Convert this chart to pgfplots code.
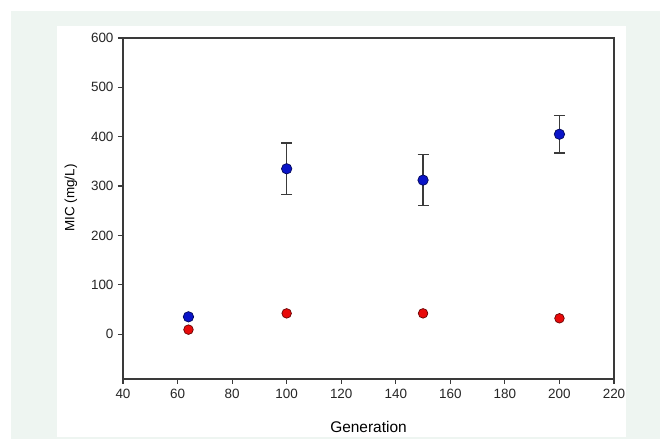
\documentclass[border=0pt]{standalone}
\usepackage{pgfplots}
\pgfplotsset{compat=1.18}
\usepackage{fontspec}
\setmainfont{Liberation Sans}
\definecolor{bgpanel}{HTML}{EEF5F1}
\definecolor{axgray}{HTML}{3A3A3A}
\definecolor{ptblue}{HTML}{0A14C8}
\definecolor{ptred}{HTML}{E80A0A}

\begin{document}
\begin{tikzpicture}[x=1bp,y=1bp]
% page background (reference framing)
\fill[white] (-123,-60) rectangle (537,379);
\fill[bgpanel] (-112,-60) rectangle (537,368);
\fill[white] (-66,-58) rectangle (503,353);
\begin{axis}[
    scale only axis, width=491bp, height=341bp,
    xmin=40, xmax=220, ymin=-91, ymax=600,
    xtick={40,60,...,220}, ytick={0,100,...,600},
    axis line style={axgray, line width=1.3bp},
    tick style={axgray, line width=1.1bp},
    tick align=outside, major tick length=5bp,
    xtick pos=bottom, ytick pos=left,
    /pgf/number format/assume math mode=true,
    /pgf/number format/1000 sep={},
    ticklabel style={font=\fontsize{13.5}{15}\selectfont, text=black!85},
    xticklabel style={yshift=-1.5bp},
    yticklabel style={xshift=-1bp},
    xlabel={Generation}, ylabel={MIC (mg/L)},
    xlabel style={font=\fontsize{15.5}{18}\selectfont, at={(axis description cs:0.5,0)}, anchor=base, yshift=-54bp},
    ylabel style={font=\fontsize{13.5}{15}\selectfont, at={(axis description cs:-0.106,0.531)}, anchor=center},
    clip=false,
]
\addplot[only marks, mark=*, mark size=4.8bp,
    mark options={fill=ptred, draw=ptred!45!black, line width=0.7bp}]
    coordinates {(64,9) (100,42) (150,42) (200,32)};
\addplot[only marks, mark=*, mark size=5.2bp,
    mark options={fill=ptblue, draw=ptblue!45!black, line width=0.7bp},
    error bars/.cd, y dir=both, y explicit,
    error bar style={axgray, line width=1.4bp},
    error mark options={rotate=90, mark size=5.5bp, axgray, line width=1.4bp}]
    coordinates {(64,35) +- (0,0) (100,335) +- (0,52) (150,312) +- (0,52) (200,405) +- (0,38)};
\end{axis}
\end{tikzpicture}
\end{document}
